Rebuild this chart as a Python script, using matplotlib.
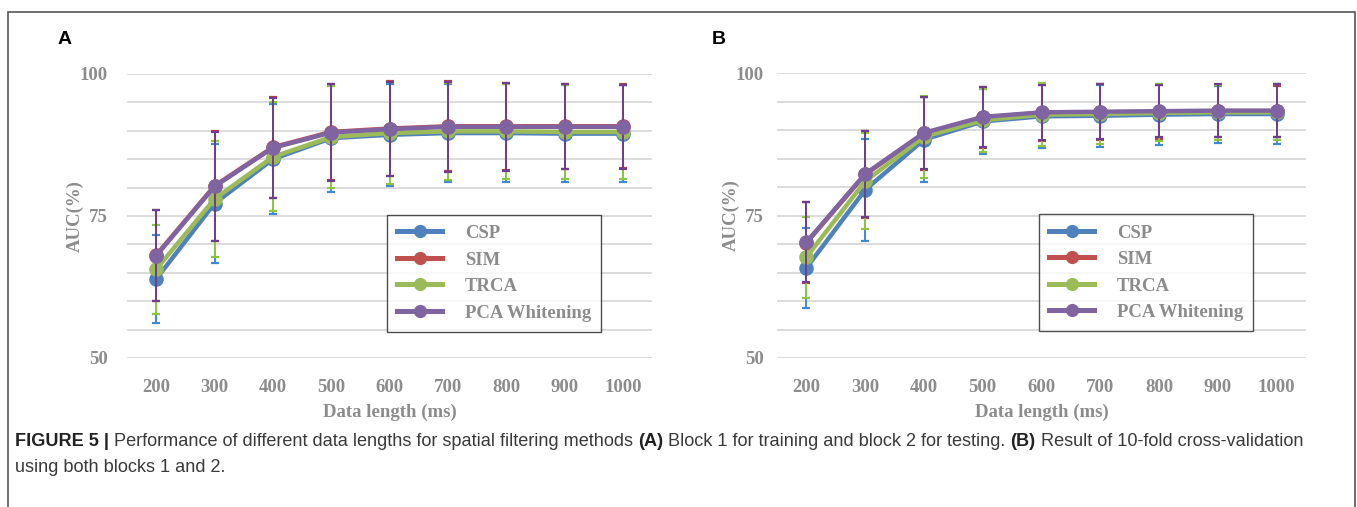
import matplotlib
matplotlib.use("Agg")
import matplotlib.pyplot as plt
from matplotlib.lines import Line2D

# data lengths (ms)
lengths = [200, 300, 400, 500, 600, 700, 800, 900, 1000]
methods = ["CSP", "SIM", "TRCA", "PCA Whitening"]

# panel A: block 1 train / block 2 test
a_csp = [63.9, 77.2, 85.0, 88.7, 89.3, 89.6, 89.6, 89.5, 89.5]
a_csp_sd = [7.8, 10.4, 9.7, 9.4, 9.0, 8.7, 8.7, 8.6, 8.5]
a_sim = [68.1, 80.3, 87.1, 89.8, 90.4, 90.8, 90.8, 90.8, 90.8]
a_sim_sd = [8.0, 9.7, 8.9, 8.4, 8.3, 7.9, 7.7, 7.5, 7.4]
a_trca = [65.6, 78.0, 85.4, 88.9, 89.6, 89.9, 89.9, 89.8, 89.8]
a_trca_sd = [7.9, 10.2, 9.6, 9.0, 9.0, 8.6, 8.4, 8.3, 8.2]
a_pca = [68.0, 80.2, 87.0, 89.7, 90.3, 90.7, 90.7, 90.7, 90.7]
a_pca_sd = [8.0, 9.6, 8.8, 8.5, 8.3, 7.9, 7.7, 7.5, 7.4]

# panel B: 10-fold cross-validation
b_csp = [65.8, 79.5, 88.3, 91.5, 92.4, 92.5, 92.7, 92.8, 92.8]
b_csp_sd = [7.0, 9.0, 7.5, 5.7, 5.6, 5.4, 5.3, 5.0, 5.2]
b_sim = [70.2, 82.2, 89.4, 92.2, 93.0, 93.1, 93.2, 93.3, 93.3]
b_sim_sd = [7.1, 7.7, 6.4, 5.3, 4.9, 4.9, 4.7, 4.6, 4.5]
b_trca = [67.7, 81.0, 88.8, 91.7, 92.7, 92.8, 93.0, 93.1, 93.1]
b_trca_sd = [7.1, 8.4, 7.2, 5.5, 5.5, 5.3, 5.0, 4.8, 4.9]
b_pca = [70.3, 82.3, 89.5, 92.3, 93.1, 93.2, 93.3, 93.4, 93.4]
b_pca_sd = [7.0, 7.6, 6.3, 5.2, 4.8, 4.8, 4.6, 4.6, 4.6]

line_cols = ["#4F81BD", "#C0504D", "#9BBB59", "#8064A2"]
err_cols = ["#3C8AD6", "#B83A4B", "#8CC63F", "#6E3D8F"]
gray = "#8C8C8C"
serif = "Liberation Serif"

fig = plt.figure(figsize=(13.57, 5.07), dpi=100)


def panel(rect, series, sds, ypad):
    ax = fig.add_axes(rect)
    for i in range(4):
        ax.errorbar(lengths, series[i], yerr=sds[i], color=line_cols[i],
                    ecolor=err_cols[i], elinewidth=1.4, capsize=3, capthick=1.6,
                    lw=3.2, marker="o", ms=9.5, zorder=3 + i)
    ax.set_xlim(150, 1050)
    ax.set_ylim(50, 100)
    ax.set_yticks(range(50, 101, 5))
    ax.set_yticklabels([str(v) if v % 25 == 0 else "" for v in range(50, 101, 5)])
    ax.set_xticks(lengths)
    ax.grid(axis="y", color="#D9D9D9", lw=1.3)
    ax.set_axisbelow(True)
    for s in ax.spines.values():
        s.set_visible(False)
    ax.tick_params(length=0, labelcolor=gray, labelsize=13.5)
    ax.tick_params(axis="y", pad=ypad)
    ax.tick_params(axis="x", pad=15)
    for t in ax.get_xticklabels() + ax.get_yticklabels():
        t.set_fontfamily(serif)
        t.set_fontweight("bold")
    ax.set_xlabel("Data length (ms)", family=serif, weight="bold", color=gray,
                  fontsize=13.5, labelpad=6)
    ax.set_ylabel("AUC(%)", family=serif, weight="bold", color=gray,
                  fontsize=13.5, labelpad=-3)
    handles = [Line2D([], [], color=line_cols[i], lw=3.6, marker="o", ms=8.5)
               for i in range(4)]
    leg = ax.legend(handles, methods, loc="upper left", bbox_to_anchor=(0.495, 0.505),
                    prop={"family": serif, "weight": "bold", "size": 13.5},
                    labelcolor=gray, frameon=True, fancybox=False,
                    handlelength=2.4, handletextpad=1.2, borderpad=0.55,
                    labelspacing=0.5, borderaxespad=0)
    leg.get_frame().set_edgecolor("#222222")
    leg.get_frame().set_linewidth(1.0)
    return ax


ax_a = panel([127 / 1357, 1 - 358 / 507, 525 / 1357, 284 / 507],
             [a_csp, a_sim, a_trca, a_pca],
             [a_csp_sd, a_sim_sd, a_trca_sd, a_pca_sd], 14)
ax_b = panel([777 / 1357, 1 - 358 / 507, 529 / 1357, 285 / 507],
             [b_csp, b_sim, b_trca, b_pca],
             [b_csp_sd, b_sim_sd, b_trca_sd, b_pca_sd], 9.5)

fig.text(58 / 1357, 1 - 40 / 507, "A", fontsize=14, weight="bold",
         family="Liberation Sans", va="center")
fig.text(712 / 1357, 1 - 40 / 507, "B", fontsize=14, weight="bold",
         family="Liberation Sans", va="center")

# outer frame
fig.add_artist(plt.Rectangle((8 / 1357, -0.01), 1347 / 1357, 1 - 12 / 507 + 0.01,
                             transform=fig.transFigure, fill=False,
                             edgecolor="#555555", lw=1.2))

# caption with bold parts
cap_font = "Liberation Sans"
renderer = fig.canvas.get_renderer()
parts = [("FIGURE 5 | ", "bold"),
         ("Performance of different data lengths for spatial filtering methods ", "normal"),
         ("(A)", "bold"),
         (" Block 1 for training and block 2 for testing. ", "normal"),
         ("(B)", "bold"),
         (" Result of 10-fold cross-validation", "normal")]
x = 15
for txt, w in parts:
    t = fig.text(x / 1357, 1 - 441 / 507, txt, fontsize=13.1, weight=w,
                 family=cap_font, color="#222222" if w == "bold" else "#3a3a3a",
                 va="center")
    x = t.get_window_extent(renderer).x1
fig.text(15 / 1357, 1 - 468 / 507, "using both blocks 1 and 2.", fontsize=13.1,
         family=cap_font, color="#3a3a3a", va="center")

fig.savefig("out.png", dpi=100)
